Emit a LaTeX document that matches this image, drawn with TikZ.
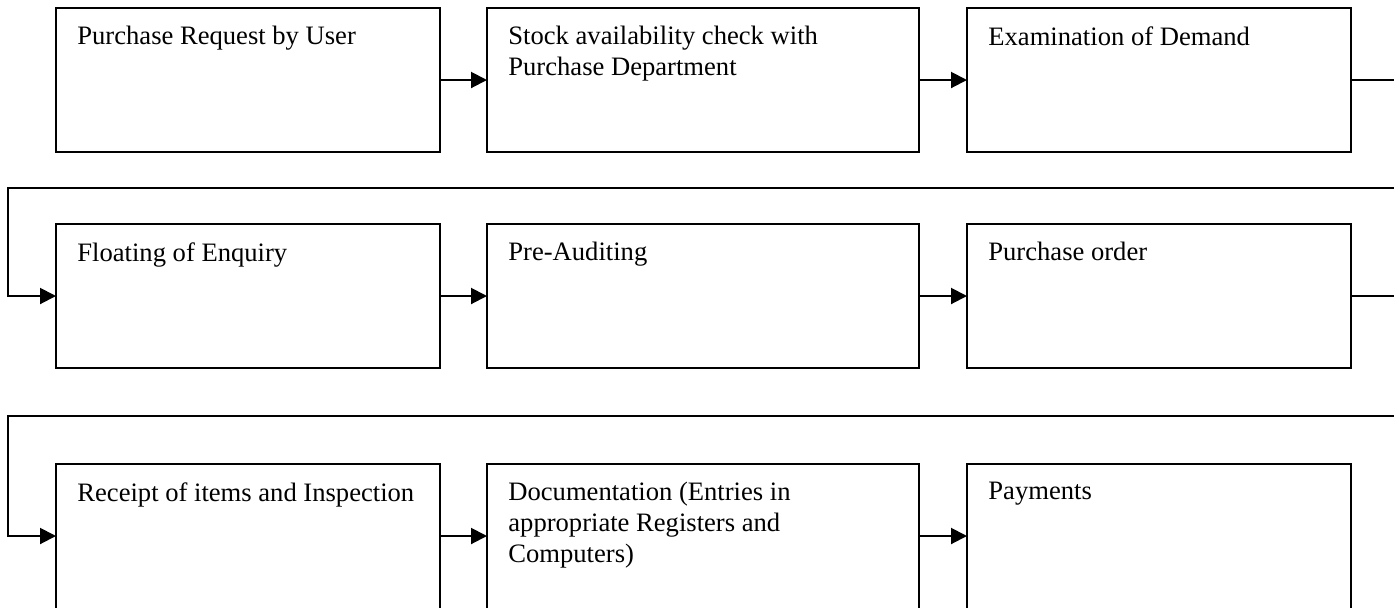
\documentclass[tikz,border=0pt]{standalone}
\usepackage{fontspec}
\setmainfont{Liberation Serif}
\usetikzlibrary{positioning,arrows.meta}

\begin{document}
\begin{tikzpicture}[
    x=0.5pt, y=-0.5pt,
    stepbox/.style={rectangle, draw, line width=1.1pt, outer sep=0pt, inner sep=0pt, minimum width=192pt, minimum height=72pt},
    widebox/.style={stepbox, minimum width=216pt},
    steptext/.style={anchor=north west, inner sep=0pt, align=left, font=\fontsize{13.3}{15.5}\selectfont},
    flow/.style={line width=1pt, -{Triangle[length=8pt,width=8pt]}}
]
\useasboundingbox (0,0) rectangle (1394,607);

% boxes, three rows (last row runs off the bottom)
\node[stepbox, anchor=north west] (b1) at (56,8) {};
\node[widebox, right=23.5pt of b1] (b2) {};
\node[stepbox, right=24pt of b2] (b3) {};
\node[stepbox, below=36pt of b1] (b4) {};
\node[widebox, below=36pt of b2] (b5) {};
\node[stepbox, below=36pt of b3] (b6) {};
\node[stepbox, minimum height=76pt, below=48pt of b4] (b7) {};
\node[widebox, minimum height=76pt, below=48pt of b5] (b8) {};
\node[stepbox, minimum height=76pt, below=48pt of b6] (b9) {};

% texts
\node[steptext] (t1) at ([xshift=10.5pt, yshift=-9pt]b1.north west) {Purchase Request by User};
\node[steptext] (t2) at ([xshift=10.5pt, yshift=-9pt]b2.north west) {Stock availability check with\\Purchase Department};
\node[steptext] (t3) at ([xshift=10.5pt, yshift=-9pt]b3.north west) {Examination of Demand};
\node[steptext] (t4) at ([xshift=10.5pt, yshift=-9pt]b4.north west) {Floating of Enquiry};
\node[steptext] (t5) at ([xshift=10.5pt, yshift=-9pt]b5.north west) {Pre-Auditing};
\node[steptext] (t6) at ([xshift=10.5pt, yshift=-9pt]b6.north west) {Purchase order};
\node[steptext] (t7) at ([xshift=10.5pt, yshift=-9pt]b7.north west) {Receipt of items and Inspection};
\node[steptext] (t8) at ([xshift=10.5pt, yshift=-9pt]b8.north west) {Documentation (Entries in\\appropriate Registers and\\Computers)};
\node[steptext] (t9) at ([xshift=10.5pt, yshift=-9pt]b9.north west) {Payments};

% connectors
\coordinate (r1) at (1420,188);
\coordinate (l1) at (8,188);
\coordinate (r2) at (1420,416);
\coordinate (l2) at (8,416);
\draw[flow] (b1.east) -- (b2.west);
\draw[flow] (b2.east) -- (b3.west);
\draw[flow] (b3.east) -| (r1) -- (l1) |- (b4.west);
\draw[flow] (b4.east) -- (b5.west);
\draw[flow] (b5.east) -- (b6.west);
\draw[flow] (b6.east) -| (r2) -- (l2) |- ([yshift=2pt]b7.west);
\draw[flow] ([yshift=2pt]b7.east) -- ([yshift=2pt]b8.west);
\draw[flow] ([yshift=2pt]b8.east) -- ([yshift=2pt]b9.west);
\end{tikzpicture}
\end{document}
